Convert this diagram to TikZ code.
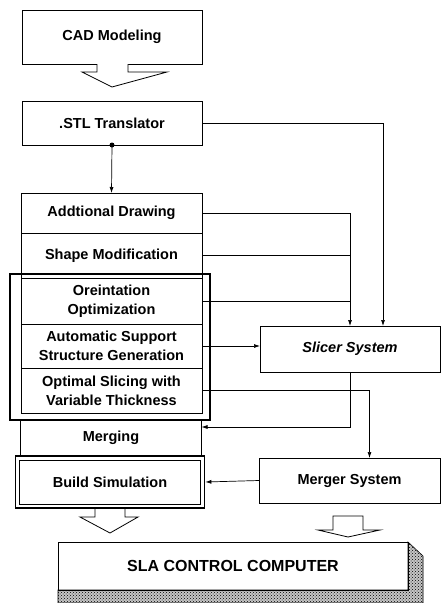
\documentclass[tikz,border=0pt]{standalone}
\usepackage{fontspec}
\setmainfont{Liberation Sans}
\usetikzlibrary{arrows}
\usetikzlibrary{arrows.meta}
\usetikzlibrary{patterns}
\usetikzlibrary{fit}
\tikzset{
  blk/.style={draw, line width=0.8pt, minimum width=180pt, outer sep=0pt, inner sep=1pt, align=center, font=\fontsize{14.5}{19}\selectfont\bfseries},
  frm/.style={draw, line width=1.7pt},
  lnk/.style={line width=0.7pt},
  arr/.style={lnk, -{Latex[length=6pt,width=4pt]}},
  hollow/.style={line width=0.8pt, fill=white},
}
\begin{document}
\begin{tikzpicture}[x=1pt,y=-1pt]
\useasboundingbox (0,0) rectangle (442,603);
\node[blk, minimum height=54pt] (cad) at (112,37) {CAD Modeling};
\node[blk, minimum height=44pt] (stl) at (112,123) {.STL Translator};
\node[blk, minimum height=40pt, minimum width=181pt] (addl) at (111.5,213) {Addtional Drawing};
\node[blk, minimum height=45pt, minimum width=181pt] (shape) at (111.5,255.5) {Shape Modification};
\node[blk, minimum height=46pt, minimum width=181pt] (orient) at (111.5,301) {Oreintation\\Optimization};
\node[blk, minimum height=44pt, minimum width=181pt] (support) at (111.5,346) {Automatic Support\\Structure Generation};
\node[blk, minimum height=45pt, minimum width=181pt] (slicing) at (111.5,390.5) {Optimal Slicing with\\Variable Thickness};
\node[blk, minimum height=36pt, minimum width=181pt] (merging) at (111,438) {Merging};
\node[blk, minimum height=44pt, minimum width=181pt] (build) at (110,482) {Build Simulation};
\node[blk, minimum height=46pt] (slicer) at (350,349) {\itshape Slicer System};
\node[blk, minimum height=45pt, minimum width=181pt] (merger) at (349.5,480.5) {Merger System};
\node[frm, fit=(build), inner sep=4pt] (buildf) {};
\draw[frm] (10,274) rectangle (210,420);
\filldraw[line width=0.6pt, preaction={fill=gray!45}, pattern=crosshatch dots] (408,542) -- (423,556) -- (423,603) -- (58,603) -- (58,590) -- (408,590) -- cycle;
\node[blk, minimum height=48pt, minimum width=350pt, font=\fontsize{16}{19}\selectfont\bfseries] (sla) at (233,566) {SLA CONTROL COMPUTER};
\draw[hollow] (97,64) -- (97,72) -- (82,72) -- (112,87) -- (167,72) -- (128,72) -- (128,64);
\draw[hollow] (95,509) -- (95,517) -- (80,517) -- (110,533) -- (138,517) -- (125,517) -- (125,509);
\draw[hollow] (318,530) -- (333,530) -- (333,516) -- (363,516) -- (363,530) -- (380,530) -- (348,537) -- cycle;
\fill (stl.south) circle (2.5pt);
\draw[arr] (stl.south) -- (addl.north);
\draw[arr] (stl.east) -| ([xshift=33pt]slicer.north);
\draw[arr] (addl.east) -| (slicer.north);
\draw[lnk] (shape.east) -- (shape.east -| slicer.north);
\draw[lnk] (orient.east) -- (orient.east -| slicer.north);
\draw[arr] (support.east) -- (slicer.west |- support.east);
\draw[arr] (slicer.south) |- ([yshift=11pt]merging.east);
\draw[arr] (slicing.east) -| ([xshift=20pt]merger.north);
\draw[arr] (merger.west) -- (buildf.east);
\end{tikzpicture}
\end{document}
